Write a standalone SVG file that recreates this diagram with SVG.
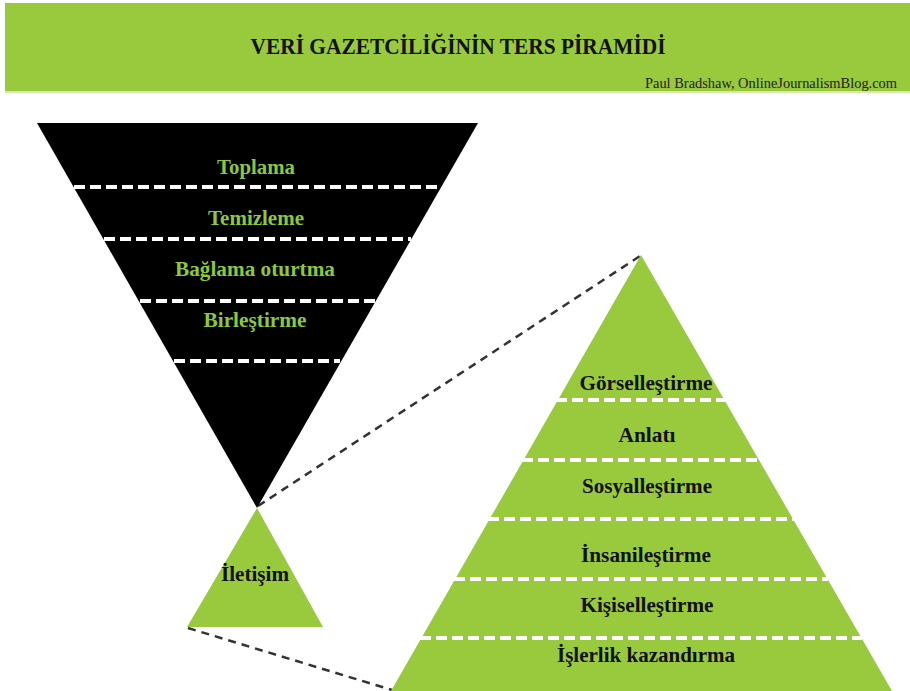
<svg xmlns="http://www.w3.org/2000/svg" width="910" height="691" viewBox="0 0 910 691">
<style>
  .lbl { font-family: "Liberation Serif", "Times New Roman", serif; font-weight: bold; font-size: 22px; text-anchor: middle; }
  .sub { font-family: "Liberation Serif", "Times New Roman", serif; font-size: 14px; text-anchor: end; fill: #222222; }
  .g { fill: #8dc63f; }
  .k { fill: #111111; }
  .wd { stroke: #ffffff; stroke-width: 4; stroke-dasharray: 11 5; fill: none; }
  .conn { stroke: #333333; stroke-width: 2.5; stroke-dasharray: 8 6; fill: none; }
</style>
<rect x="0" y="0" width="910" height="691" fill="#ffffff"/>
<g id="header">
  <rect x="5" y="3" width="905" height="88" fill="#99c93d"/>
  <rect x="5" y="91" width="905" height="2" fill="#d6e8b0"/>
  <text x="458" y="54" class="lbl k" style="font-size:23px" textLength="415" lengthAdjust="spacingAndGlyphs">VERİ GAZETCİLİĞİNİN TERS PİRAMİDİ</text>
  <text x="897" y="88" class="sub" textLength="252" lengthAdjust="spacingAndGlyphs">Paul Bradshaw, OnlineJournalismBlog.com</text>
</g>
<g id="connectors">
  <line class="conn" x1="258" y1="506" x2="640" y2="256"/>
  <line class="conn" x1="188" y1="628" x2="392" y2="690"/>
</g>
<g id="inverted-pyramid">
  <polygon points="37,123 478,123 257,508" fill="#000000"/>
  <line class="wd" x1="74" y1="187" x2="441" y2="187"/>
  <line class="wd" x1="104" y1="239" x2="411" y2="239"/>
  <line class="wd" x1="140" y1="301" x2="375" y2="301"/>
  <line class="wd" x1="174" y1="361" x2="340" y2="361"/>
  <text x="256" y="174" class="lbl g" textLength="78" lengthAdjust="spacingAndGlyphs">Toplama</text>
  <text x="256" y="225" class="lbl g" textLength="96" lengthAdjust="spacingAndGlyphs">Temizleme</text>
  <text x="255" y="276" class="lbl g" textLength="160" lengthAdjust="spacingAndGlyphs">Bağlama oturtma</text>
  <text x="255" y="327" class="lbl g" textLength="103" lengthAdjust="spacingAndGlyphs">Birleştirme</text>
</g>
<g id="iletisim">
  <polygon points="257,508 323,627 187,627" fill="#99c93d"/>
  <text x="255" y="581" class="lbl k" textLength="68" lengthAdjust="spacingAndGlyphs">İletişim</text>
</g>
<g id="pyramid">
  <polygon points="641,255 892,691 391,691" fill="#99c93d"/>
  <line class="wd" x1="556" y1="400" x2="726" y2="400"/>
  <line class="wd" x1="522" y1="460" x2="760" y2="460"/>
  <line class="wd" x1="488" y1="519" x2="794" y2="519"/>
  <line class="wd" x1="454" y1="579" x2="828" y2="579"/>
  <line class="wd" x1="420" y1="638" x2="862" y2="638"/>
  <text x="646" y="390" class="lbl k" textLength="133" lengthAdjust="spacingAndGlyphs">Görselleştirme</text>
  <text x="647" y="442" class="lbl k" textLength="57" lengthAdjust="spacingAndGlyphs">Anlatı</text>
  <text x="647" y="493" class="lbl k" textLength="130" lengthAdjust="spacingAndGlyphs">Sosyalleştirme</text>
  <text x="646" y="562" class="lbl k" textLength="130" lengthAdjust="spacingAndGlyphs">İnsanileştirme</text>
  <text x="647" y="612" class="lbl k" textLength="133" lengthAdjust="spacingAndGlyphs">Kişiselleştirme</text>
  <text x="646" y="662" class="lbl k" textLength="178" lengthAdjust="spacingAndGlyphs">İşlerlik kazandırma</text>
</g>
</svg>
